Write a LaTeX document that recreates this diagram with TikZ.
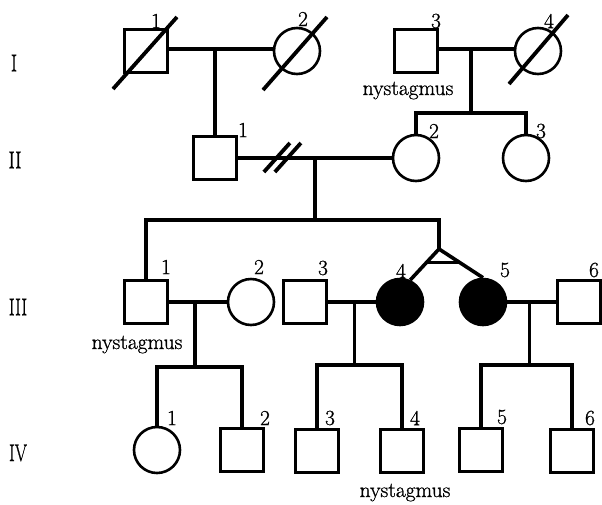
\documentclass[tikz,border=0pt]{standalone}
\usepackage{graphicx}
\usepackage{fontspec}
\newfontfamily\heavy{Latin Modern Roman}[FakeBold=0.9]
\usetikzlibrary{calc}
\begin{document}
\begin{tikzpicture}[x=1pt,y=-1pt,
  male/.style={draw, rectangle, minimum size=43pt, inner sep=0pt, line width=2.6pt},
  female/.style={draw, circle, minimum size=46pt, inner sep=0pt, line width=2.6pt},
  affected/.style={fill=black},
  conn/.style={line width=3.6pt},
  dead/.style={line width=3.8pt},
  num/.style={font=\heavy\fontsize{21.5}{24}\selectfont, inner sep=0pt},
  note/.style={font=\heavy\fontsize{21.5}{24}\selectfont, inner sep=0pt, anchor=base},
  gen/.style={font=\heavy\fontsize{22}{24}\selectfont, inner sep=0pt}
]
\useasboundingbox (0,0) rectangle (602,504);

% generation labels
\node[gen] (gI)   at (14,63)  {\scalebox{0.85}[1.1]{I}};
\node[gen] (gII)  at (15,160) {\scalebox{0.85}[1.1]{II}};
\node[gen] (gIII) at (18,307) {\scalebox{0.8}[1.1]{III}};
\node[gen] (gIV)  at (18,453) {\scalebox{0.8}[1.1]{IV}};

% generation I
\node[male]   (I1) at (146,51) {};
\node[female] (I2) at (297,51) {};
\node[male]   (I3) at (416,51) {};
\node[female] (I4) at (538,51) {};
% generation II
\node[male]   (II1) at (215,158) {};
\node[female] (II2) at (416,158) {};
\node[female] (II3) at (526,158) {};
% generation III
\node[male]   (III1) at (146,302) {};
\node[female] (III2) at (251,302) {};
\node[male]   (III3) at (305,302) {};
\node[female,affected] (III4) at (400,302) {};
\node[female,affected] (III5) at (483,302) {};
\node[male]   (III6) at (579,302) {};
% generation IV
\node[female] (IV1) at (157,450) {};
\node[male]   (IV2) at (242,450) {};
\node[male]   (IV3) at (317,451) {};
\node[male]   (IV4) at (402,451) {};
\node[male]   (IV5) at (481,450) {};
\node[male]   (IV6) at (572,451) {};

% numbers
\node[num] (nI1) at (156,21) {1};
\node[num] (nI2) at (303,19) {2};
\node[num] (nI3) at (436,21) {3};
\node[num] (nI4) at (549,21) {4};
\node[num] (nII1) at (243,130) {1};
\node[num] (nII2) at (434,131) {2};
\node[num] (nII3) at (541,131) {3};
\node[num] (nIII1) at (166,267) {1};
\node[num] (nIII2) at (259,267) {2};
\node[num] (nIII3) at (323,268) {3};
\node[num] (nIII4) at (401,271) {4};
\node[num] (nIII5) at (505,270) {5};
\node[num] (nIII6) at (594,270) {6};
\node[num] (nIV1) at (172,418) {1};
\node[num] (nIV2) at (265,418) {2};
\node[num] (nIV3) at (330,418) {3};
\node[num] (nIV4) at (415,418) {4};
\node[num] (nIV5) at (502,417) {5};
\node[num] (nIV6) at (590,418) {6};

% notes
\node[note] (tI3) at (408,95) {nystagmus};
\node[note] (tIII1) at (137,349) {nystagmus};
\node[note] (tIV4) at (405,497) {nystagmus};

% deceased
\draw[dead] ($(I1.center)+(-33,38)$) -- ($(I1.center)+(31,-34)$);
\draw[dead] ($(I2.center)+(-34,39)$) -- ($(I2.center)+(30,-34)$);
\draw[dead] ($(I4.center)+(-29,33)$) -- ($(I4.center)+(30,-36)$);

% generation I matings
\draw[conn] ($(I1.east)+(0,-2)$) -- ($(I2.west)+(0,-2)$);
\draw[conn] (II1.north) -- ($(II1.north |- I1.east)+(0,-2)$);
\draw[conn] ($(I3.east)+(0,-2)$) -- ($(I4.west)+(0,-2)$);
\coordinate (m2) at ($(I3.east)!0.43!(I4.west)+(0,-2)$);
\coordinate (s2) at ($(m2)+(0,64)$);
\draw[conn] (m2) -- (s2);
\draw[conn] (II2.north) |- (s2) -| (II3.north);

% generation II mating (divorced)
\draw[conn] (II1.east) -- (II2.west);
\coordinate (dv) at ($(II1.east)!0.28!(II2.west)$);
\draw[dead] ($(dv)+(-17,14)$) -- ($(dv)+(9,-15)$);
\draw[dead] ($(dv)+(-6,14)$) -- ($(dv)+(20,-15)$);
\coordinate (m3) at ($(II1.east)!0.5!(II2.west)$);
\coordinate (s3) at ($(m3)+(0,62)$);
\coordinate (tw) at (439,249);
\draw[conn] (m3) -- (s3);
\draw[conn] (III1.north) |- (tw |- s3) -- (tw);
% MZ twins
\draw[conn, line join=round] (III4.65) -- (tw) -- (III5.north);
\coordinate (tl) at ($(tw)!0.44!(III4.65)$);
\coordinate (tr) at ($(tw)!0.47!(III5.north)$);
\draw[conn] (tl) -- (tl -| tr);

% generation III matings
\draw[conn] (III1.east) -- (III2.west);
\coordinate (m4) at ($(III1.east)!0.45!(III2.west)$);
\coordinate (s4) at ($(m4)+(0,65)$);
\draw[conn] (m4) -- (s4);
\draw[conn] (IV1.north) |- (s4) -| (IV2.north);

\draw[conn] (III3.east) -- (III4.west);
\coordinate (m5) at ($(III3.east)!0.56!(III4.west)$);
\coordinate (s5) at ($(m5)+(0,63)$);
\draw[conn] (m5) -- (s5);
\draw[conn] (IV3.north) |- (s5) -| (IV4.north);

\draw[conn] (III5.east) -- (III6.west);
\coordinate (m6) at ($(III5.east)!0.45!(III6.west)$);
\coordinate (s6) at ($(m6)+(0,63)$);
\draw[conn] (m6) -- (s6);
\draw[conn] (IV5.north) |- (s6) -| (IV6.north);
\end{tikzpicture}
\end{document}
